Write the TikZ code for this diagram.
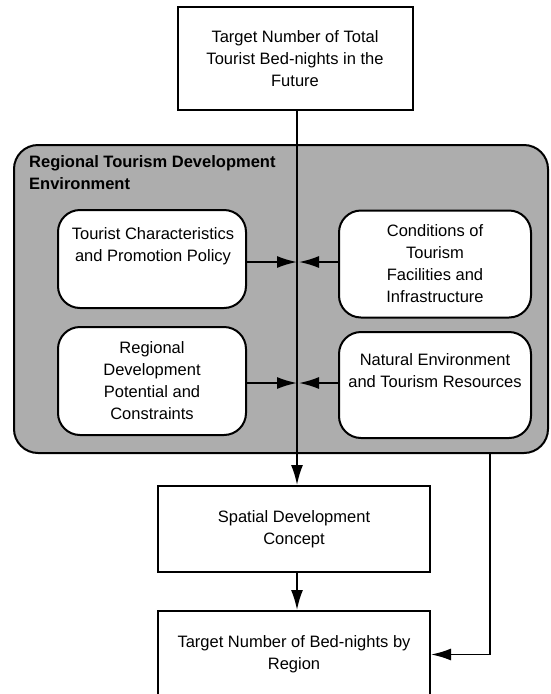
\documentclass[tikz,border=0pt]{standalone}
\usepackage{fontspec}
\setmainfont{Liberation Sans}
\usetikzlibrary{arrows.meta}
\begin{document}
\begin{tikzpicture}[x=1pt,y=-1pt,
  every node/.style={font=\fontsize{16.5}{22}\selectfont, align=center, inner sep=0pt},
  sqbox/.style={draw, line width=2pt, fill=white},
  rbox/.style={draw, line width=2pt, fill=white, rounded corners=22pt},
  envbox/.style={draw, line width=2pt, fill=black!32, rounded corners=24pt},
  link/.style={line width=1.8pt},
  tip/.style={-{Latex[length=20pt,width=12pt]}},
]
\useasboundingbox (0,0) rectangle (551,694);

% surrounding environment panel
\node[envbox, minimum width=534pt, minimum height=308pt] (env) at (281,299) {};
\node[font=\bfseries\fontsize{16.5}{22}\selectfont, align=left, anchor=north west]
  (envtitle) at (29,155) {Regional Tourism Development\\Environment};

% top target box
\node[sqbox, minimum width=235pt, minimum height=103pt] (top) at (295,58.5)
  {Target Number of Total\\Tourist Bed-nights in the\\Future};

% four factor boxes
\node[rbox, minimum width=188pt, minimum height=98pt] (tcp) at (152,259) {};
\node (tcptext) at (153,246) {Tourist Characteristics\\and Promotion Policy};
\node[rbox, minimum width=192pt, minimum height=107pt] (cond) at (435,264)
  {Conditions of\\Tourism\\Facilities and\\Infrastructure};
\node[rbox, minimum width=188pt, minimum height=108pt] (rdp) at (152,381)
  {Regional\\Development\\Potential and\\Constraints};
\node[rbox, minimum width=192pt, minimum height=106pt] (nat) at (435,385) {};
\node (nattext) at (435,371) {Natural Environment\\and Tourism Resources};

% lower boxes
\node[sqbox, minimum width=272pt, minimum height=86pt] (spatial) at (294,529)
  {Spatial Development\\Concept};
\node[sqbox, minimum width=272pt, minimum height=87pt] (target) at (294,654.5)
  {Target Number of Bed-nights by\\Region};

% connectors
\coordinate (j1) at (297,262);
\coordinate (j2) at (297,383);
\coordinate (fb) at (490,453);

\draw[link,tip] (top.south -| j1) -- (spatial.north -| j1);
\draw[link,tip] (tcp.east |- j1) -- (j1);
\draw[link,tip] (cond.west |- j1) -- ([xshift=2pt]j1);
\draw[link,tip] (rdp.east |- j2) -- (j2);
\draw[link,tip] (nat.west |- j2) -- ([xshift=2pt]j2);
\draw[link,tip] (spatial.south -| j1) -- (target.north -| j1);
\draw[link,tip] (env.south -| fb) |- (target.east);
\end{tikzpicture}
\end{document}
